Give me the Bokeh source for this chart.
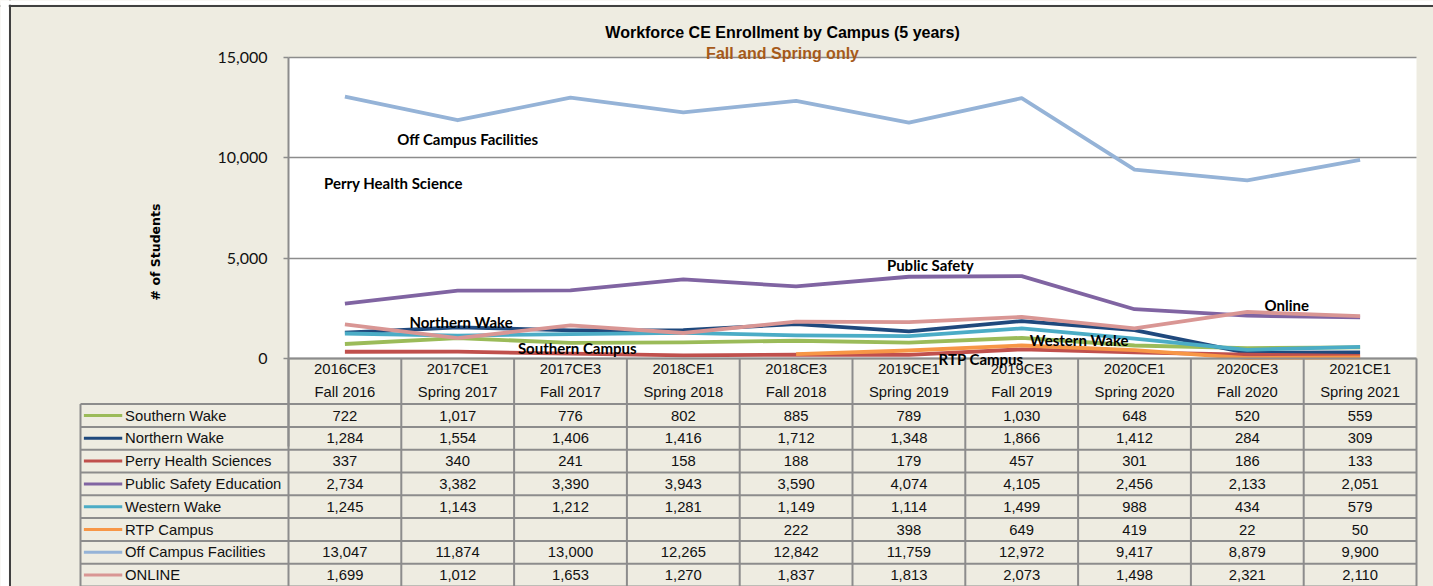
import numpy as np
from bokeh.plotting import figure
from bokeh.models import Range1d, FixedTicker, NumeralTickFormatter, Span, BoxAnnotation
from bokeh.core.properties import value
from bokeh.embed import file_html
from bokeh.resources import INLINE

# ---------------- data ----------------
codes = ["2016CE3", "2017CE1", "2017CE3", "2018CE1", "2018CE3",
         "2019CE1", "2019CE3", "2020CE1", "2020CE3", "2021CE1"]
terms = ["Fall 2016", "Spring 2017", "Fall 2017", "Spring 2018", "Fall 2018",
         "Spring 2019", "Fall 2019", "Spring 2020", "Fall 2020", "Spring 2021"]

southern_wake = [722, 1017, 776, 802, 885, 789, 1030, 648, 520, 559]
northern_wake = [1284, 1554, 1406, 1416, 1712, 1348, 1866, 1412, 284, 309]
perry_health = [337, 340, 241, 158, 188, 179, 457, 301, 186, 133]
public_safety = [2734, 3382, 3390, 3943, 3590, 4074, 4105, 2456, 2133, 2051]
western_wake = [1245, 1143, 1212, 1281, 1149, 1114, 1499, 988, 434, 579]
rtp_campus = [None, None, None, None, 222, 398, 649, 419, 22, 50]
off_campus = [13047, 11874, 13000, 12265, 12842, 11759, 12972, 9417, 8879, 9900]
online = [1699, 1012, 1653, 1270, 1837, 1813, 2073, 1498, 2321, 2110]

series_names = ["Southern Wake", "Northern Wake", "Perry Health Sciences",
                "Public Safety Education", "Western Wake", "RTP Campus",
                "Off Campus Facilities", "ONLINE"]
series_values = [southern_wake, northern_wake, perry_health, public_safety,
                 western_wake, rtp_campus, off_campus, online]
series_colors = ["#9BBB59", "#1F497D", "#C0504D", "#8064A2",
                 "#4BACC6", "#F79646", "#95B3D7", "#D99694"]

y_ticks = [0, 5000, 10000, 15000]

# text labels placed in the chart (text, column position, value position)
callouts = [("Off Campus Facilities", 1.09, 10960),
            ("Perry Health Science", 0.43, 8770),
            ("Public Safety", 5.19, 4680),
            ("Online", 8.35, 2690),
            ("Northern Wake", 1.03, 1840),
            ("Southern Campus", 2.06, 500),
            ("Western Wake", 6.51, 900),
            ("RTP Campus", 5.64, 0)]

# ---------------- layout geometry ----------------
W, H = 1433, 586
PX_COL = 112.8            # pixels per category column
PLOT_LEFT_PX = 288        # left edge of plot area
ZERO_PX = 358             # pixel row (from top) of value 0
TOP_PX = 57               # pixel row of 15,000
PER_PX = 15000.0 / (ZERO_PX - TOP_PX)
ROW_H = 22.8

x_start = -0.5 - PLOT_LEFT_PX / PX_COL
x_end = x_start + W / PX_COL
y_start = -(H - ZERO_PX) * PER_PX
y_end = ZERO_PX * PER_PX
legend_left = -0.5 - 208 / PX_COL
border_x = x_start + 9.5 / PX_COL
border_y = y_end - 5.5 * PER_PX

BEIGE = "#EEECE1"
GRID = "#8C8C8C"

p = figure(width=W, height=H, output_backend="svg", toolbar_location=None,
           x_range=Range1d(x_start, x_end), y_range=Range1d(y_start, y_end),
           min_border=0, min_border_left=0, min_border_right=0,
           min_border_top=0, min_border_bottom=0, title=None)
p.extra_y_ranges = {"tbl": Range1d(-(H - ZERO_PX) / ROW_H, ZERO_PX / ROW_H)}
p.background_fill_color = BEIGE
p.border_fill_color = BEIGE
p.outline_line_color = None

# white plot area (below grid)
p.quad(left=-0.5, right=9.5, bottom=0, top=max(y_ticks), fill_color="white",
       line_color=None, level="image")

# axes
p.xaxis.visible = False
p.xgrid.visible = False
ya = p.yaxis[0]
ya.fixed_location = -0.5
ya.bounds = (-4400, 15000)
ya.ticker = FixedTicker(ticks=y_ticks)
ya.formatter = NumeralTickFormatter(format="0,0")
ya.major_tick_out = 5
ya.major_tick_in = 0
ya.minor_tick_out = 0
ya.minor_tick_in = 0
ya.axis_line_color = GRID
ya.axis_line_width = 2
ya.major_tick_line_color = GRID
ya.major_tick_line_width = 1.5
ya.major_label_text_font = "Lato"
ya.major_label_text_font_size = "16px"
ya.major_label_text_color = "#111111"
ya.major_label_standoff = 16
ya.axis_label = "# of Students"
ya.axis_label_text_font = "DejaVu Sans"
ya.axis_label_text_font_style = "bold"
ya.axis_label_text_font_size = "12.5px"
ya.axis_label_text_color = "#000000"
ya.axis_label_standoff = 51
p.ygrid.grid_line_color = GRID
p.ygrid.grid_line_width = 1.5
p.ygrid.cross_bounds = (-0.5, 9.5)

# series lines
xs = list(range(len(codes)))
for name, vals, col in zip(series_names, series_values, series_colors):
    yv = [np.nan if v is None else v for v in vals]
    p.line(xs, yv, line_color=col, line_width=3.8, line_join="round")

# ---------------- data table ----------------
ncols = len(codes)
nrows = len(series_names)
vx0, vy0, vx1, vy1 = [], [], [], []
for i in range(ncols + 1):
    vx0.append(i - 0.5); vx1.append(i - 0.5); vy0.append(0); vy1.append(-(nrows + 2))
vx0.append(legend_left); vx1.append(legend_left); vy0.append(-2); vy1.append(-(nrows + 2))
for r in range(2, nrows + 3):
    vx0.append(legend_left); vx1.append(ncols - 0.5); vy0.append(-r); vy1.append(-r)
vx0.append(-0.5); vx1.append(ncols - 0.5); vy0.append(0); vy1.append(0)
p.segment(x0=vx0, y0=vy0, x1=vx1, y1=vy1, line_color=GRID, line_width=2,
          y_range_name="tbl")

tfont = value("Liberation Sans")
TSIZE = "14.8px"
p.text(x=xs, y=[-0.48] * ncols, text=codes, text_font=tfont, text_font_size=TSIZE,
       text_align="center", text_baseline="middle", text_color="#111111", y_range_name="tbl")
p.text(x=xs, y=[-1.49] * ncols, text=terms, text_font=tfont, text_font_size=TSIZE,
       text_align="center", text_baseline="middle", text_color="#111111", y_range_name="tbl")

cx, cy, ct = [], [], []
for r, vals in enumerate(series_values):
    for c, v in enumerate(vals):
        if v is None:
            continue
        cx.append(c); cy.append(-(2.5 + r)); ct.append(f"{v:,}")
p.text(x=cx, y=cy, text=ct, text_font=tfont, text_font_size=TSIZE,
       text_align="center", text_baseline="middle", text_color="#111111", y_range_name="tbl")

rows_y = [-(2.5 + r) for r in range(nrows)]
p.segment(x0=[legend_left + 0.03] * nrows, x1=[legend_left + 0.37] * nrows,
          y0=rows_y, y1=rows_y, line_color=series_colors, line_width=3,
          y_range_name="tbl")
p.text(x=[legend_left + 0.395] * nrows, y=rows_y, text=series_names, text_font=tfont,
       text_font_size=TSIZE, text_align="left", text_baseline="middle",
       text_color="#111111", y_range_name="tbl")

# callout labels in the plot
p.text(x=[c[1] for c in callouts], y=[c[2] for c in callouts], text=[c[0] for c in callouts],
       text_font=value("Lato"), text_font_style="bold", text_font_size="15px",
       text_align="center", text_baseline="middle", text_color="#000000")

# titles
p.text(x=[3.88], y=[16250], text=["Workforce CE Enrollment by Campus (5 years)"],
       text_font=value("Liberation Sans"), text_font_style="bold", text_font_size="16px",
       text_align="center", text_baseline="middle", text_color="#000000")
p.text(x=[3.88], y=[15200], text=["Fall and Spring only"],
       text_font=value("Liberation Sans"), text_font_style="bold", text_font_size="16px",
       text_align="center", text_baseline="middle", text_color="#A65A1A")

# chart border (top and left), white outside it
p.add_layout(Span(location=border_x, dimension="height", line_color="#404040", line_width=2))
p.add_layout(Span(location=border_y, dimension="width", line_color="#404040", line_width=2))
p.add_layout(BoxAnnotation(right=border_x - 1.2 / PX_COL, fill_color="white",
                           fill_alpha=1.0, line_color=None))
p.add_layout(BoxAnnotation(bottom=border_y + 1.2 * PER_PX, fill_color="white",
                           fill_alpha=1.0, line_color=None))

open("out.html", "w").write(file_html(p, INLINE))
